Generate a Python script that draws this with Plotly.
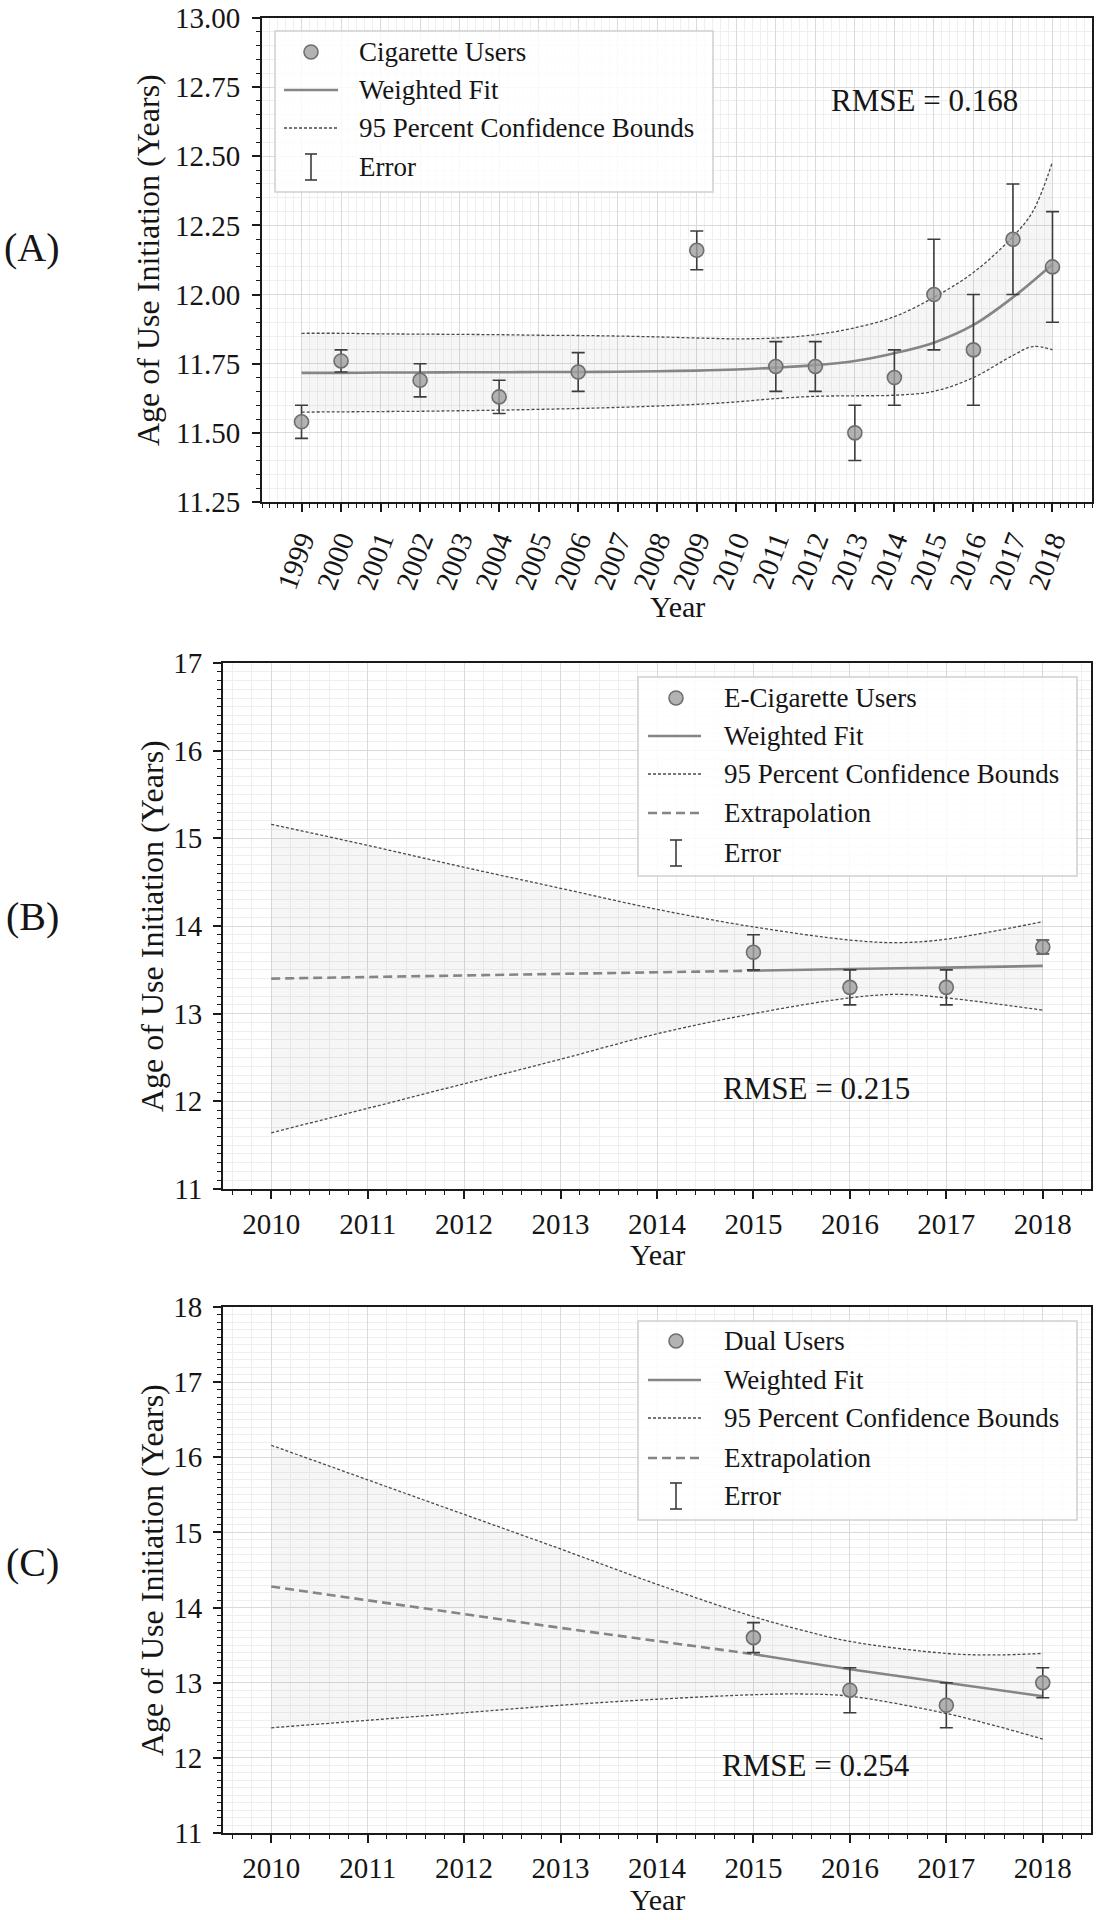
import plotly.graph_objects as go

# ---------------- DATA ----------------
# Panel A: cigarette users
cig_years = [1999, 2000, 2002, 2004, 2006, 2009, 2011, 2012, 2013, 2014, 2015, 2016, 2017, 2018]
cig_age = [11.54, 11.76, 11.69, 11.63, 11.72, 12.16, 11.74, 11.74, 11.50, 11.70, 12.00, 11.80, 12.20, 12.10]
cig_err = [0.06, 0.04, 0.06, 0.06, 0.07, 0.07, 0.09, 0.09, 0.10, 0.10, 0.20, 0.20, 0.20, 0.20]
cig_fit_years = [1999, 2000, 2001, 2002, 2003, 2004, 2005, 2006, 2007, 2008, 2009,
                 2010, 2011, 2012, 2013, 2014, 2015, 2016, 2017, 2018]
cig_fit = [11.717, 11.717, 11.718, 11.718, 11.719, 11.719, 11.720, 11.720, 11.721, 11.723, 11.725,
           11.729, 11.736, 11.745, 11.760, 11.788, 11.826, 11.890, 11.990, 12.110]
cig_bound_years = [1999, 2000, 2001, 2002, 2003, 2004, 2005, 2006, 2007, 2008, 2009,
                   2010, 2011, 2012, 2013, 2014, 2015, 2016, 2017, 2017.5, 2018]
cig_upper = [11.860, 11.860, 11.858, 11.857, 11.856, 11.855, 11.853, 11.852, 11.850, 11.847, 11.843,
             11.840, 11.843, 11.855, 11.880, 11.920, 11.990, 12.080, 12.210, 12.300, 12.480]
cig_lower = [11.575, 11.576, 11.577, 11.578, 11.580, 11.582, 11.585, 11.588, 11.592, 11.597, 11.603,
             11.612, 11.624, 11.632, 11.634, 11.636, 11.650, 11.700, 11.780, 11.812, 11.800]
cig_ticks = [1999, 2000, 2001, 2002, 2003, 2004, 2005, 2006, 2007, 2008, 2009,
             2010, 2011, 2012, 2013, 2014, 2015, 2016, 2017, 2018]
cig_yticks = [11.25, 11.50, 11.75, 12.00, 12.25, 12.50, 12.75, 13.00]

# Panel B: e-cigarette users
ecig_years = [2015, 2016, 2017, 2018]
ecig_age = [13.70, 13.30, 13.30, 13.76]
ecig_err = [0.20, 0.20, 0.20, 0.08]
ecig_fit_years = [2015, 2016, 2017, 2018]
ecig_fit = [13.49, 13.51, 13.525, 13.545]
ecig_extrap_years = [2010, 2015]
ecig_extrap = [13.40, 13.49]
ecig_bound_years = [2010, 2011, 2012, 2013, 2014, 2015, 2016, 2016.5, 2017, 2018]
ecig_upper = [15.16, 14.92, 14.67, 14.43, 14.19, 13.99, 13.84, 13.81, 13.85, 14.05]
ecig_lower = [11.64, 11.92, 12.20, 12.48, 12.77, 13.00, 13.18, 13.22, 13.18, 13.04]

# Panel C: dual users
dual_years = [2015, 2016, 2017, 2018]
dual_age = [13.60, 12.90, 12.70, 13.00]
dual_err = [0.20, 0.30, 0.30, 0.20]
dual_fit_years = [2015, 2016, 2017, 2018]
dual_fit = [13.38, 13.18, 13.00, 12.82]
dual_extrap_years = [2010, 2013, 2015]
dual_extrap = [14.28, 13.73, 13.38]
dual_bound_years = [2010, 2011, 2012, 2013, 2014, 2015, 2015.5, 2016, 2017, 2017.5, 2018]
dual_upper = [16.16, 15.70, 15.24, 14.78, 14.31, 13.88, 13.70, 13.55, 13.39, 13.37, 13.39]
dual_lower = [12.40, 12.50, 12.60, 12.70, 12.78, 12.84, 12.85, 12.82, 12.59, 12.43, 12.25]

year_ticks_bc = [2010, 2011, 2012, 2013, 2014, 2015, 2016, 2017, 2018]

# ---------------- STYLE ----------------
W, H = 1100, 1920
FONT = "Liberation Serif"
TXT = "#151515"
MARK_FILL = "rgba(160,160,160,0.8)"
MARK_EDGE = "#6e6e6e"
ERR_COL = "#3c3c3c"
FIT_COL = "#858585"
BOUND_COL = "#4a4a4a"
FILL_COL = "rgba(140,140,140,0.08)"
GRID = "#dadada"
MGRID = "#efefef"


def px(x):
    return x / W


def py(y):
    return 1 - y / H


fig = go.Figure()


def add_panel(k, xs, ys, es, fx, fy, bx, bu, bl, ex=None, ey=None):
    xa = "x" if k == 1 else f"x{k}"
    ya = "y" if k == 1 else f"y{k}"
    fig.add_trace(go.Scatter(x=bx, y=bl, mode="lines", xaxis=xa, yaxis=ya,
                             line=dict(color=BOUND_COL, width=1.3, dash="3px,2px", shape="spline"),
                             showlegend=False, hoverinfo="skip"))
    fig.add_trace(go.Scatter(x=bx, y=bu, mode="lines", xaxis=xa, yaxis=ya, fill="tonexty",
                             fillcolor=FILL_COL,
                             line=dict(color=BOUND_COL, width=1.3, dash="3px,2px", shape="spline"),
                             showlegend=False, hoverinfo="skip"))
    if ex is not None:
        fig.add_trace(go.Scatter(x=ex, y=ey, mode="lines", xaxis=xa, yaxis=ya,
                                 line=dict(color=FIT_COL, width=2.6, dash="9px,5px"),
                                 showlegend=False))
    fig.add_trace(go.Scatter(x=fx, y=fy, mode="lines", xaxis=xa, yaxis=ya,
                             line=dict(color=FIT_COL, width=2.6, shape="spline"),
                             showlegend=False))
    fig.add_trace(go.Scatter(x=xs, y=ys, mode="markers", xaxis=xa, yaxis=ya,
                             marker=dict(size=14, color=MARK_FILL, line=dict(color=MARK_EDGE, width=1.6)),
                             error_y=dict(type="data", array=es, visible=True, color=ERR_COL,
                                          thickness=1.6, width=6.5),
                             showlegend=False))


add_panel(1, cig_years, cig_age, cig_err, cig_fit_years, cig_fit,
          cig_bound_years, cig_upper, cig_lower)
add_panel(2, ecig_years, ecig_age, ecig_err, ecig_fit_years, ecig_fit,
          ecig_bound_years, ecig_upper, ecig_lower, ecig_extrap_years, ecig_extrap)
add_panel(3, dual_years, dual_age, dual_err, dual_fit_years, dual_fit,
          dual_bound_years, dual_upper, dual_lower, dual_extrap_years, dual_extrap)

axis_common = dict(showline=True, linecolor="#1a1a1a", linewidth=2, mirror=True,
                   ticks="outside", ticklen=8, tickwidth=1.5, tickcolor="#1a1a1a",
                   showgrid=True, gridcolor=GRID, gridwidth=1, zeroline=False,
                   automargin=False,
                   tickfont=dict(family=FONT, size=29, color=TXT))


def minor(d):
    return dict(dtick=d, ticks="outside", ticklen=4, tickwidth=1, tickcolor="#1a1a1a",
                showgrid=True, gridcolor=MGRID, gridwidth=1)


# panel pixel boxes
A = (262, 1092, 18, 502)
B = (223, 1091, 663, 1189)
C = (223, 1091, 1307, 1833)

fig.update_layout(
    width=W, height=H, margin=dict(l=0, r=0, t=0, b=0, autoexpand=False),
    paper_bgcolor="white", plot_bgcolor="white", showlegend=False,
    xaxis=dict(axis_common, domain=[px(A[0]), px(A[1])], anchor="y", range=[1998, 2019],
               tickmode="array", tickvals=cig_ticks, ticktext=[str(t) for t in cig_ticks],
               tickangle=-70, minor=minor(0.2)),
    yaxis=dict(axis_common, domain=[py(A[3]), py(A[2])], anchor="x", range=[11.25, 13.0],
               tickmode="array", tickvals=cig_yticks, ticktext=[f"{t:.2f}" for t in cig_yticks],
               ticklabelstandoff=6, minor=minor(0.05)),
    xaxis2=dict(axis_common, domain=[px(B[0]), px(B[1])], anchor="y2", range=[2009.5, 2018.5],
                tickmode="array", tickvals=year_ticks_bc, ticktext=[str(t) for t in year_ticks_bc],
                tickangle=0, minor=minor(0.2)),
    yaxis2=dict(axis_common, domain=[py(B[3]), py(B[2])], anchor="x2", range=[11, 17],
                dtick=1, tick0=11, ticklabelstandoff=5, minor=minor(0.1)),
    xaxis3=dict(axis_common, domain=[px(C[0]), px(C[1])], anchor="y3", range=[2009.5, 2018.5],
                tickmode="array", tickvals=year_ticks_bc, ticktext=[str(t) for t in year_ticks_bc],
                tickangle=0, minor=minor(0.2)),
    yaxis3=dict(axis_common, domain=[py(C[3]), py(C[2])], anchor="x3", range=[11, 18],
                dtick=1, tick0=11, ticklabelstandoff=5, minor=minor(0.1)),
)

shapes = []
annotations = []


def text(x, y, s, size, angle=0, xanchor="center"):
    annotations.append(dict(x=px(x), y=py(y), xref="paper", yref="paper", text=s,
                            showarrow=False, textangle=angle, xanchor=xanchor, yanchor="middle",
                            font=dict(family=FONT, size=size, color=TXT)))


def legend(box, rows, sym_cx, line_x0, line_x1, text_x):
    x0, x1, y0, y1 = box
    shapes.append(dict(type="rect", xref="paper", yref="paper", x0=px(x0), x1=px(x1),
                       y0=py(y1), y1=py(y0), line=dict(color="#cfcfcf", width=1.5),
                       fillcolor="rgba(255,255,255,0.82)", layer="above"))
    for kind, label, yc in rows:
        if kind == "marker":
            r = 7
            shapes.append(dict(type="circle", xref="paper", yref="paper",
                               x0=px(sym_cx - r), x1=px(sym_cx + r), y0=py(yc + r), y1=py(yc - r),
                               fillcolor=MARK_FILL, line=dict(color=MARK_EDGE, width=1.6), layer="above"))
        elif kind == "error":
            shapes.append(dict(type="line", xref="paper", yref="paper", x0=px(sym_cx), x1=px(sym_cx),
                               y0=py(yc - 13), y1=py(yc + 13), line=dict(color=ERR_COL, width=1.6),
                               layer="above"))
            for yy in (yc - 13, yc + 13):
                shapes.append(dict(type="line", xref="paper", yref="paper", x0=px(sym_cx - 6),
                                   x1=px(sym_cx + 6), y0=py(yy), y1=py(yy),
                                   line=dict(color=ERR_COL, width=1.6), layer="above"))
        else:
            style = {"fit": dict(color=FIT_COL, width=2.6),
                     "bound": dict(color=BOUND_COL, width=1.3, dash="3px,2px"),
                     "extrap": dict(color=FIT_COL, width=2.6, dash="9px,5px")}[kind]
            shapes.append(dict(type="line", xref="paper", yref="paper", x0=px(line_x0), x1=px(line_x1),
                               y0=py(yc), y1=py(yc), line=style, layer="above"))
        text(text_x, yc, label, 27, xanchor="left")


legend((275, 713, 31, 192),
       [("marker", "Cigarette Users", 52), ("fit", "Weighted Fit", 90),
        ("bound", "95 Percent Confidence Bounds", 128), ("error", "Error", 167)],
       311, 284, 338, 357)
legend((638, 1077, 677, 876),
       [("marker", "E-Cigarette Users", 698), ("fit", "Weighted Fit", 736),
        ("bound", "95 Percent Confidence Bounds", 774), ("extrap", "Extrapolation", 813),
        ("error", "Error", 853)],
       676, 648, 701, 722)
legend((638, 1077, 1321, 1520),
       [("marker", "Dual Users", 1341), ("fit", "Weighted Fit", 1380),
        ("bound", "95 Percent Confidence Bounds", 1418), ("extrap", "Extrapolation", 1458),
        ("error", "Error", 1496)],
       676, 648, 701, 722)

# RMSE notes
text(924, 100, "RMSE = 0.168", 31)
text(816, 1088, "RMSE = 0.215", 31)
text(816, 1765, "RMSE = 0.254", 31)

# axis titles
text(148, 260, "Age of Use Initiation (Years)", 32, angle=-90)
text(152, 926, "Age of Use Initiation (Years)", 32, angle=-90)
text(152, 1570, "Age of Use Initiation (Years)", 32, angle=-90)
text(677, 606, "Year", 30)
text(657, 1254, "Year", 30)
text(657, 1899, "Year", 30)

# panel labels
text(32, 247, "(A)", 40)
text(32, 917, "(B)", 40)
text(32, 1562, "(C)", 40)

fig.update_layout(shapes=shapes, annotations=annotations)

fig.write_html("out.html", config={"displayModeBar": False},
               post_script="document.body.style.margin='0';document.body.style.overflow='hidden';")
